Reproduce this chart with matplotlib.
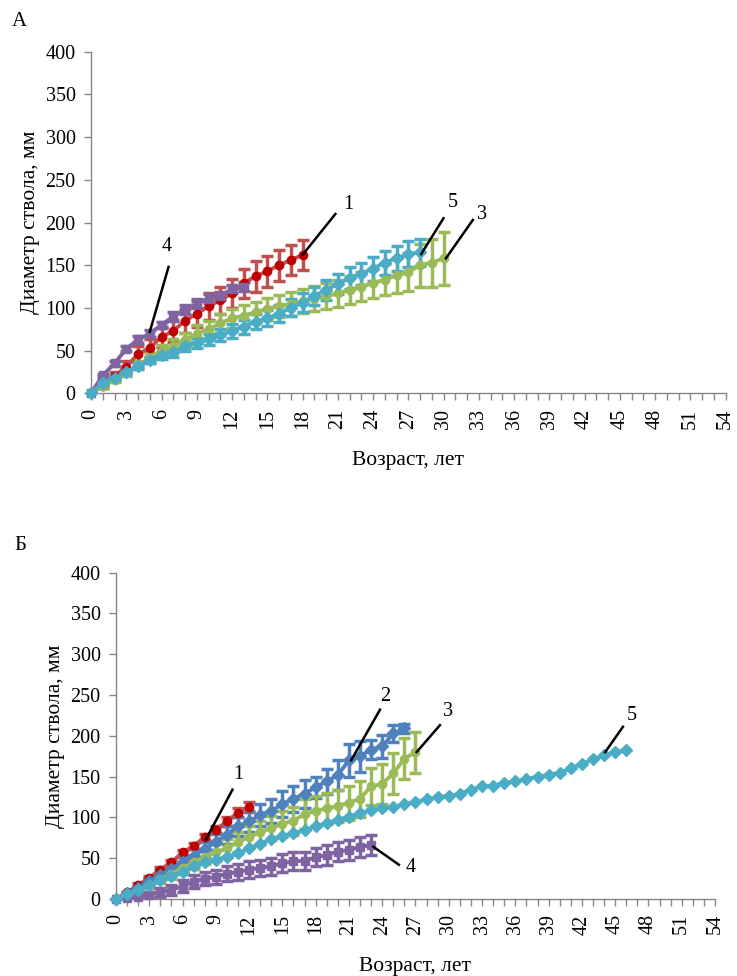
import matplotlib.pyplot as plt
from matplotlib.ticker import MultipleLocator

plt.rcParams['font.family'] = ['Liberation Serif', 'DejaVu Serif']

# ---- panel A data (years 0..N, stem diameter, mm) ----
a1_vals = [0, 9, 20, 31, 46, 53, 66, 73, 85, 93, 102, 109, 117, 129, 137, 143, 150, 156, 162]
a1_err = [0, 3, 5, 7, 9, 10, 12, 13, 14, 15, 16, 16, 17, 17, 18, 18, 18, 18, 18]
a3_vals = [0, 8, 16, 24, 33, 41, 50, 55, 62, 70, 75, 82, 88, 91, 95, 99, 102, 105, 108, 111,
           114, 117, 121, 125, 129, 133, 138, 142, 150, 153, 158]
a3_err = [0, 2, 3, 4, 5, 6, 7, 8, 9, 10, 10, 11, 11, 12, 12, 13, 13, 14, 14, 15,
          15, 16, 16, 17, 17, 18, 20, 22, 25, 28, 31]
a4_vals = [0, 21, 35, 52, 63, 70, 80, 90, 98, 105, 111, 114, 122, 125]
a4_err = [0, 2, 3, 3, 4, 4, 4, 5, 5, 5, 5, 5, 5, 5]
a5_vals = [0, 12, 18, 25, 32, 39, 45, 48, 55, 59, 63, 68, 73, 78, 84, 88, 93, 100, 106, 114,
           121, 128, 135, 140, 146, 153, 158, 163, 165]
a5_err = [0, 2, 3, 3, 4, 4, 5, 5, 6, 6, 7, 7, 8, 8, 9, 9, 10, 10, 11, 11,
          12, 12, 13, 13, 14, 14, 15, 15, 16]

# ---- panel B data ----
b1_vals = [0, 8, 17, 26, 36, 45, 57, 65, 76, 85, 95, 106, 113]
b1_err = [0, 1, 2, 2, 3, 3, 3, 4, 4, 4, 5, 5, 6]
b2_vals = [0, 7, 14, 22, 30, 37, 45, 53, 61, 70, 79, 89, 95, 103, 108, 116, 123, 129, 137, 144,
           152, 170, 175, 183, 187, 203, 209]
b2_err = [0, 2, 3, 4, 5, 6, 7, 8, 9, 10, 11, 12, 13, 14, 15, 16, 16, 17, 13, 15,
          18, 20, 19, 12, 14, 10, 6]
b3_vals = [0, 5, 11, 17, 24, 31, 38, 45, 52, 57, 62, 70, 76, 82, 87, 92, 96, 104, 108, 111,
           114, 118, 123, 138, 141, 154, 172, 180]
b3_err = [0, 2, 3, 4, 5, 6, 7, 8, 9, 10, 11, 12, 13, 14, 15, 16, 17, 18, 18, 19,
          20, 21, 22, 23, 24, 25, 25, 25]
b4_vals = [0, 1, 3, 5, 8, 11, 16, 21, 25, 27, 31, 33, 36, 38, 40, 44, 46, 47, 51, 54,
           58, 60, 64, 66]
b4_err = [0, 2, 3, 4, 5, 6, 7, 8, 8, 9, 9, 10, 10, 10, 10, 11, 11, 11, 11, 12,
          12, 12, 12, 12]
b5_vals = [0, 6, 11, 17, 23, 28, 33, 40, 45, 48, 52, 56, 62, 68, 73, 77, 81, 84, 89, 93,
           97, 101, 105, 109, 111, 113, 116, 119, 122, 125, 126, 129, 134, 138, 139, 142, 144, 147,
           150, 152, 155, 160, 166, 171, 176, 180, 183]

# series styles: line colour, marker colour, marker
styles = {
    '1': ('#C0504D', '#C00000', 'o'),
    '2': ('#4F81BD', '#4F81BD', 'D'),
    '3': ('#9BBB59', '#9BBB59', 'o'),
    '4': ('#8064A2', '#8064A2', 's'),
    '5': ('#4BACC6', '#4BACC6', 'D'),
}

W, H = 737, 976
fig = plt.figure(figsize=(W / 100, H / 100), dpi=100)
axA = fig.add_axes([91 / W, 1 - 393.3 / H, 634.5 / W, 341.6 / H])
axB = fig.add_axes([116 / W, 1 - 899 / H, 599 / W, 326.4 / H])


def draw(ax, key, vals, err=None):
    lc, mc, mk = styles[key]
    xs = list(range(len(vals)))
    if err is not None:
        ax.errorbar(xs, vals, yerr=err, fmt='none', ecolor=lc, elinewidth=2.5,
                    capsize=4, capthick=2.5, zorder=2)
    ax.plot(xs, vals, color=lc, lw=2.8, marker=mk, ms=6, mfc=mc, mec=mc, zorder=3,
            clip_on=False)


def style_axis(ax):
    ax.set_xlim(0, 54)
    ax.set_ylim(0, 400)
    for s in ['top', 'right']:
        ax.spines[s].set_visible(False)
    for s in ['left', 'bottom']:
        ax.spines[s].set_color('#868686')
        ax.spines[s].set_linewidth(1.0)
    ax.xaxis.set_major_locator(MultipleLocator(3))
    ax.xaxis.set_minor_locator(MultipleLocator(1))
    ax.yaxis.set_major_locator(MultipleLocator(50))
    ax.tick_params(axis='both', which='both', direction='out', color='#868686',
                   length=5, width=1, labelsize=14.5, pad=6)
    ax.tick_params(axis='x', labelrotation=90)
    ax.set_xlabel('Возраст, лет', fontsize=15.5, labelpad=16)
    ax.set_ylabel('Диаметр ствола, мм', fontsize=15.5, labelpad=4)


def label(ax, text, start, end, tpos):
    ax.plot([start[0], end[0]], [start[1], end[1]], color='black', lw=1.8, zorder=5)
    ax.text(tpos[0], tpos[1], text, fontsize=14.5, ha='center', va='center', zorder=6)


# panel A
draw(axA, '1', a1_vals, a1_err)
draw(axA, '3', a3_vals, a3_err)
draw(axA, '4', a4_vals, a4_err)
draw(axA, '5', a5_vals, a5_err)
style_axis(axA)
label(axA, '1', (18, 162), (20.8, 210), (21.9, 221))
label(axA, '5', (28.1, 163), (30.0, 205), (30.8, 224))
label(axA, '3', (30.2, 158), (32.5, 203), (33.3, 209))
label(axA, '4', (5.0, 72), (6.6, 148), (6.4, 172))

# panel B
draw(axB, '1', b1_vals, b1_err)
draw(axB, '2', b2_vals, b2_err)
draw(axB, '3', b3_vals, b3_err)
draw(axB, '4', b4_vals, b4_err)
draw(axB, '5', b5_vals)
style_axis(axB)
label(axB, '1', (8.1, 73), (10.5, 134), (11.0, 152))
label(axB, '2', (21.2, 170), (23.8, 232), (24.3, 248))
label(axB, '3', (27.1, 180), (29.2, 213), (29.9, 230))
label(axB, '5', (44.1, 180), (45.7, 211), (46.5, 225))
label(axB, '4', (23.2, 64), (25.5, 42), (26.6, 38))

fig.text(12 / W, 1 - 22 / H, 'А', fontsize=15, ha='left', va='center')
fig.text(14 / W, 1 - 545 / H, 'Б', fontsize=15, ha='left', va='center')

fig.savefig('out.png', dpi=100)
